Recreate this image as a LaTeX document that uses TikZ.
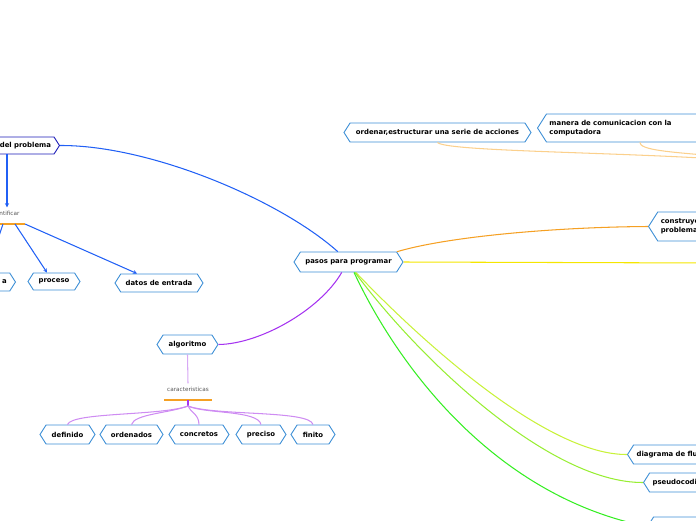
\documentclass[tikz,border=0pt]{standalone}
\usepackage{fontspec}
\setsansfont{DejaVu Sans}
\usetikzlibrary{shapes.symbols,arrows.meta}
\definecolor{nodeblue}{HTML}{3D8FD6}
\definecolor{navyb}{HTML}{1C1CB8}
\definecolor{linkblue}{HTML}{2160F5}
\definecolor{purp}{HTML}{A533F0}
\definecolor{lpurp}{HTML}{D7A8F5}
\definecolor{cpurp}{HTML}{CE8CF2}
\definecolor{orng}{HTML}{F5A023}
\definecolor{lorng}{HTML}{FBD08C}
\definecolor{yell}{HTML}{F5E600}
\definecolor{grA}{HTML}{C8F23A}
\definecolor{grB}{HTML}{98EE33}
\definecolor{grC}{HTML}{35EE22}
\definecolor{smallgray}{HTML}{555555}
\begin{document}
\begin{tikzpicture}[x=1pt,y=-1pt,
  hexn/.style={shape=signal, signal from=nowhere, signal to={west and east}, signal pointer angle=115,
    draw=nodeblue, fill=white, line width=0.9pt, inner xsep=3pt, inner ysep=0pt,
    minimum height=19pt, font=\sffamily\bfseries\fontsize{6.9}{9.5}\selectfont, text=black},
  small/.style={font=\sffamily\fontsize{5.7}{7}\selectfont, text=smallgray},
  conn/.style={line width=1.05pt},
  arr/.style={conn, draw=linkblue, -{Stealth[length=4pt,width=4pt]}},
  uline/.style={draw=orng, line width=1.2pt}
]
\useasboundingbox (0,0) rectangle (696,520);
\clip (0,0) rectangle (696,520);

% off-canvas ends
\coordinate (offA) at (710,158.5);
\coordinate (offB) at (710,155.5);
\coordinate (offY) at (710,263);

% nodes
\node[hexn, minimum width=109, minimum height=20] (pasos) at (348.5,262) {pasos para programar};
\node[hexn, minimum width=187] (ord) at (437.5,132.5) {ordenar,estructurar una serie de acciones};
\node[hexn, anchor=west, minimum height=28, text width=145, align=left] (man) at (537,128) {manera de comunicacion con la\\computadora};
\node[hexn, anchor=west, minimum height=29, text width=80, align=left] (cons) at (648,226.5) {construye\\problema};
\node[hexn, anchor=west, text width=90, align=left] (diag) at (627,454.5) {diagrama de flujo};
\node[hexn, anchor=west, text width=80, align=left] (pseu) at (643,482.5) {pseudocodigo};
\node[hexn, anchor=west, minimum width=90] (bot) at (647,526.5) {};
\node[hexn, minimum width=61] (alg) at (187.5,344.5) {algoritmo};
\node[hexn, draw=navyb, anchor=east, minimum height=17, text width=80, align=right] (prob) at (60,145.5) {del problema};
\node[small] (ident) at (5.1,213) {identificar};
\node[hexn, anchor=east, minimum height=18, text width=40, align=right] (sal) at (16,282) {a};
\node[hexn, minimum width=52, minimum height=17] (proc) at (54,281.5) {proceso};
\node[hexn, minimum width=88, minimum height=18] (datos) at (159,283) {datos de entrada};
\node[small] (car) at (188,389) {caracteristicas};
\node[hexn, minimum width=55] (def) at (67.5,434.5) {definido};
\node[hexn, minimum width=63] (orden) at (131.5,434.5) {ordenados};
\node[hexn, minimum width=60] (conc) at (199,434.5) {concretos};
\node[hexn, minimum width=50] (prec) at (261,434.5) {preciso};
\node[hexn, minimum width=44] (fin) at (313,434.5) {finito};

% underlines
\coordinate (identL) at (-15,224);
\coordinate (identR) at (25,224);
\draw[uline] (identL) -- (identR);
\coordinate (carL) at (164,400);
\coordinate (carR) at (212,400);
\draw[uline] (carL) -- (carR);
\coordinate (carb) at (188,406);

% connectors from pasos
\draw[conn, draw=linkblue] (pasos.136) .. controls (280,200) and (150,145) .. (prob.east);
\draw[conn, draw=orng] (pasos.12) .. controls (450,236) and (560,227) .. (cons.west);
\draw[conn, draw=yell] (pasos.east) -- (offY);
\draw[conn, draw=grA] (pasos.-55) .. controls (430,350) and (550,455) .. (diag.west);
\draw[conn, draw=grB] (pasos.-58) .. controls (420,360) and (550,483) .. (pseu.west);
\draw[conn, draw=grC] (pasos.-62) .. controls (395,360) and (490,495) .. (bot.west);
\draw[conn, draw=purp] (pasos.-123) .. controls (320,310) and (260,344) .. (alg.east);

% light orange lines to the right
\draw[conn, draw=lorng] (ord.south) .. controls (445,151) and (600,152) .. (offA);
\draw[conn, draw=lorng] (man.-39) .. controls (640,150) and (670,152) .. (offB);

% del problema branch
\draw[arr] (prob.south -| 7,0) -- (ident.north -| 7,0);
\draw[arr] (identL -| 3,0) -- (sal.north);
\draw[arr] (identR -| 15,0) -- (proc.north -| 47,0);
\draw[arr] (identR) -- (datos.north -| 137,0);

% algoritmo branch
\draw[conn, draw=lpurp] (alg.south) -- (car.north);
\draw[conn, draw=purp] (carR -| carb) -- (carb);
\draw[conn, draw=cpurp] (carb) .. controls (160,416) and (72,412) .. (def.north);
\draw[conn, draw=cpurp] (carb) .. controls (170,413) and (134,414) .. (orden.north);
\draw[conn, draw=cpurp] (carb) .. controls (190,412) and (199,414) .. (conc.north);
\draw[conn, draw=cpurp] (carb) .. controls (205,414) and (258,410) .. (prec.north);
\draw[conn, draw=cpurp] (carb) .. controls (215,416) and (310,410) .. (fin.north);
\end{tikzpicture}
\end{document}
